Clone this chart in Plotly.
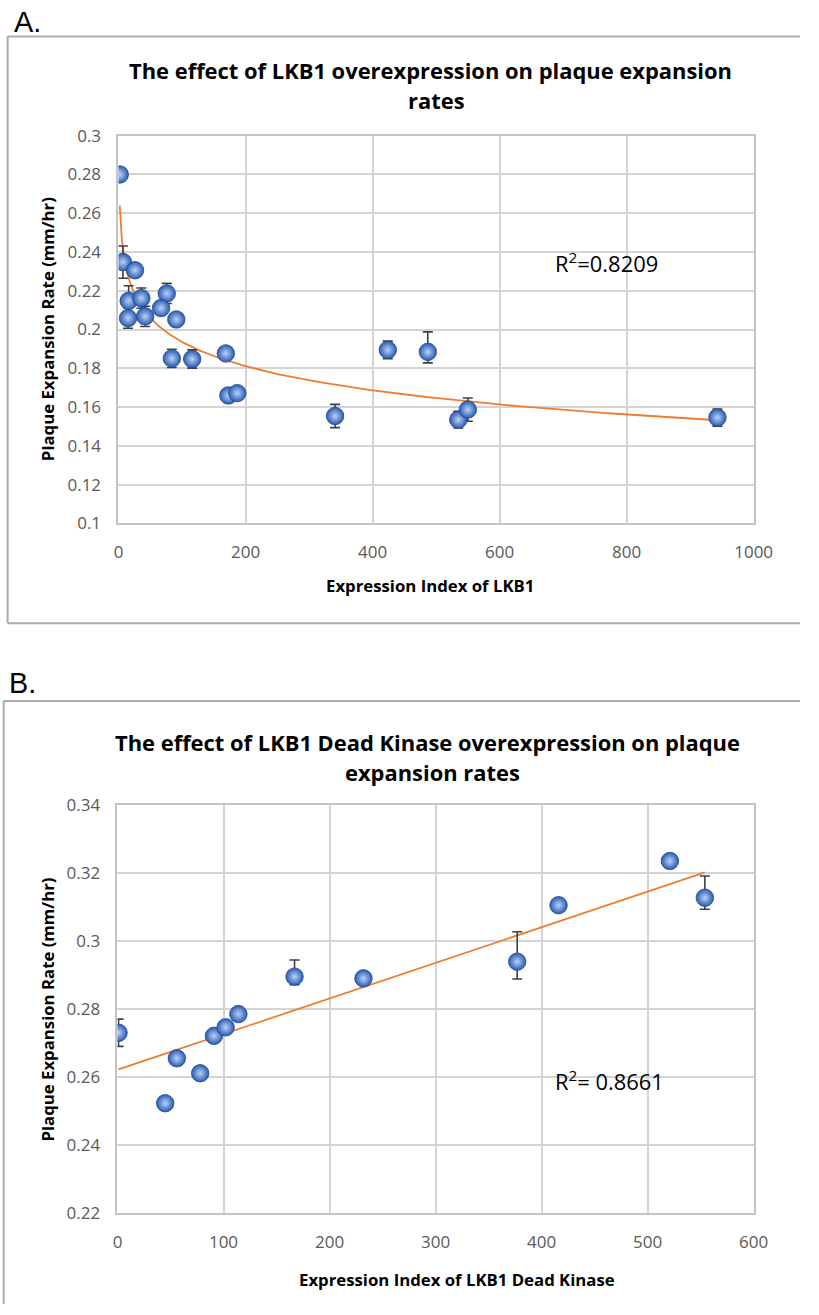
import numpy as np
import plotly.graph_objects as go

W, H = 819, 1315

# ---------------- Chart A data: LKB1 overexpression ----------------
lkb1_index = [2, 7, 26, 16, 36, 76, 15, 42, 67, 91, 84, 116, 169, 173, 187,
              424, 487, 341, 535, 550, 943]
lkb1_rate = [0.2800, 0.2348, 0.2306, 0.2148, 0.2162, 0.2186, 0.2059, 0.2068,
             0.2111, 0.2052, 0.1851, 0.1848, 0.1877, 0.1660, 0.1672,
             0.1895, 0.1885, 0.1554, 0.1535, 0.1587, 0.1546]
lkb1_err_up = [0, 0.0083, 0, 0.0078, 0.0052, 0.0052, 0.0052, 0.0052,
               0.0030, 0, 0.0047, 0.0047, 0, 0, 0,
               0.0045, 0.0103, 0.0060, 0.0043, 0.0060, 0.0044]
lkb1_err_down = [0, 0.0083, 0, 0.0078, 0.0052, 0.0052, 0.0052, 0.0052,
                 0.0030, 0, 0.0047, 0.0047, 0, 0, 0,
                 0.0045, 0.0057, 0.0060, 0.0043, 0.0060, 0.0044]
lkb1_r2 = "0.8209"
a_xticks = [0, 200, 400, 600, 800, 1000]
a_yticks = [0.1, 0.12, 0.14, 0.16, 0.18, 0.2, 0.22, 0.24, 0.26, 0.28, 0.3]
a_ytext = ["0.1", "0.12", "0.14", "0.16", "0.18", "0.2", "0.22", "0.24",
           "0.26", "0.28", "0.3"]

# ---------------- Chart B data: LKB1 Dead Kinase ----------------
dk_index = [1, 45, 56, 78, 91, 102, 114, 167, 232, 377, 416, 521, 554]
dk_rate = [0.2731, 0.2524, 0.2656, 0.2612, 0.2722, 0.2747, 0.2786, 0.2896,
           0.2891, 0.2940, 0.3106, 0.3236, 0.3128]
dk_err_up = [0.0040, 0, 0, 0, 0, 0, 0, 0.0049, 0, 0.0088, 0, 0, 0.0064]
dk_err_down = [0.0040, 0, 0, 0, 0, 0, 0, 0.0024, 0, 0.0051, 0, 0, 0.0034]
dk_r2 = "0.8661"
b_xticks = [0, 100, 200, 300, 400, 500, 600]
b_yticks = [0.22, 0.24, 0.26, 0.28, 0.3, 0.32, 0.34]
b_ytext = ["0.22", "0.24", "0.26", "0.28", "0.3", "0.32", "0.34"]

TITLE_A = ["The effect of LKB1 overexpression on plaque expansion", "rates"]
TITLE_B = ["The effect of LKB1 Dead Kinase overexpression on plaque", "expansion rates"]
XT_A = "Expression Index of LKB1"
XT_B = "Expression Index of LKB1 Dead Kinase"
YT = "Plaque Expansion Rate (mm/hr)"

# page-to-picture calibration (observed slight shrink/offset of the page)
SX, BX, SY, BY = 0.972, 4.36, 0.9833, 11.2


def fx(p):
    return ((p - BX) / SX) / W


def fy(p):
    return 1 - ((p - BY) / SY) / H


def fs(s):
    return s / SX


FONT = "Open Sans"
ORANGE = "#ED7D31"
GRID = "#d4d4d4"

# trend lines (least-squares fits of the data)
xa = np.array(lkb1_index, float)
ya = np.array(lkb1_rate, float)
ca = np.polyfit(np.log(xa), ya, 1)
xa_line = np.geomspace(xa.min(), xa.max(), 300)
ya_line = ca[0] * np.log(xa_line) + ca[1]

xb = np.array(dk_index, float)
yb = np.array(dk_rate, float)
cb = np.polyfit(xb, yb, 1)
xb_line = np.array([xb.min(), xb.max()])
yb_line = cb[0] * xb_line + cb[1]

marker = dict(size=fs(17), color="#2a5bb0",
              gradient=dict(type="radial", color="#b9d2fa"),
              line=dict(color="#1d4a94", width=0.8))

fig = go.Figure()
fig.add_trace(go.Scatter(x=xa_line, y=ya_line, mode="lines",
                         line=dict(color=ORANGE, width=1.8),
                         xaxis="x", yaxis="y", hoverinfo="skip"))
fig.add_trace(go.Scatter(x=lkb1_index, y=lkb1_rate, mode="markers",
                         marker=marker,
                         error_y=dict(type="data", symmetric=False,
                                      array=lkb1_err_up, arrayminus=lkb1_err_down,
                                      color="#404040", thickness=1.6, width=5),
                         xaxis="x", yaxis="y"))
fig.add_trace(go.Scatter(x=xb_line, y=yb_line, mode="lines",
                         line=dict(color=ORANGE, width=1.8),
                         xaxis="x2", yaxis="y2", hoverinfo="skip"))
fig.add_trace(go.Scatter(x=dk_index, y=dk_rate, mode="markers",
                         marker=marker,
                         error_y=dict(type="data", symmetric=False,
                                      array=dk_err_up, arrayminus=dk_err_down,
                                      color="#404040", thickness=1.6, width=5),
                         xaxis="x2", yaxis="y2"))

tickfont = dict(family=FONT, size=fs(16.5), color="#595959")
axcommon = dict(showgrid=True, gridcolor=GRID, gridwidth=2, zeroline=False,
                showline=True, mirror=True, linecolor="#c4c4c4", linewidth=2,
                ticks="", tickfont=tickfont, fixedrange=True)

fig.update_layout(
    width=W, height=H, showlegend=False,
    margin=dict(l=0, r=0, t=0, b=0),
    paper_bgcolor="white", plot_bgcolor="white",
    xaxis=dict(domain=[fx(118), fx(754)], range=[0, 1000], tickvals=a_xticks,
               anchor="y", ticklabelstandoff=12, **axcommon),
    yaxis=dict(domain=[fy(523), fy(135)], range=[0.1, 0.3], tickvals=a_yticks,
               ticktext=a_ytext, anchor="x", ticklabelstandoff=12, **axcommon),
    xaxis2=dict(domain=[fx(117), fx(754)], range=[0, 600], tickvals=b_xticks,
                anchor="y2", ticklabelstandoff=12, **axcommon),
    yaxis2=dict(domain=[fy(1213.6), fy(805)], range=[0.22, 0.34], tickvals=b_yticks,
                ticktext=b_ytext, anchor="x2", ticklabelstandoff=12, **axcommon),
)

ann = []


def text(x, y, s, size, bold=False, color="black", family=FONT, angle=0,
         xanchor="center"):
    ann.append(dict(x=fx(x), y=fy(y), xref="paper", yref="paper", text=s,
                    showarrow=False, xanchor=xanchor, yanchor="middle",
                    textangle=angle,
                    font=dict(family=family, size=fs(size), color=color,
                              weight="bold" if bold else "normal")))


# panel letters
text(11, 21, "A.", 28, family="Liberation Sans", xanchor="left")
text(6, 683, "B.", 28, family="Liberation Sans", xanchor="left")
# titles
text(430, 70, TITLE_A[0], 21.3, bold=True)
text(436, 100, TITLE_A[1], 21.3, bold=True)
text(427, 742, TITLE_B[0], 21.3, bold=True)
text(432, 772, TITLE_B[1], 21.3, bold=True)
# axis titles
text(430, 585, XT_A, 16.3, bold=True)
text(457, 1280, XT_B, 16.3, bold=True)
text(47, 329, YT, 16.3, bold=True, angle=-90)
text(47, 1010, YT, 16.3, bold=True, angle=-90)
# R^2 labels
text(553, 262, "R<sup>2</sup>=" + lkb1_r2, 21.3, xanchor="left")
text(553, 1081, "R<sup>2</sup>= " + dk_r2, 21.3, xanchor="left")
fig.update_layout(annotations=ann)

# frames around each chart (kept inside the page)
FR = dict(color="#ababab", width=2)
shapes = [
    dict(type="line", xref="paper", yref="paper", x0=fx(7), x1=1.0, y0=fy(35.7), y1=fy(35.7), line=FR),
    dict(type="line", xref="paper", yref="paper", x0=fx(7), x1=1.0, y0=fy(623), y1=fy(623), line=FR),
    dict(type="line", xref="paper", yref="paper", x0=fx(7), x1=fx(7), y0=fy(35.7), y1=fy(623), line=FR),
    dict(type="line", xref="paper", yref="paper", x0=fx(3), x1=1.0, y0=fy(700.7), y1=fy(700.7), line=FR),
    dict(type="line", xref="paper", yref="paper", x0=fx(3), x1=fx(3), y0=fy(700.7), y1=0.0, line=FR),
]
fig.update_layout(shapes=shapes)

fig.write_html(
    "out.html",
    config={"displayModeBar": False},
    post_script="document.body.style.margin='0';"
                "document.documentElement.style.overflow='hidden';"
                "document.body.style.overflow='hidden';",
)
